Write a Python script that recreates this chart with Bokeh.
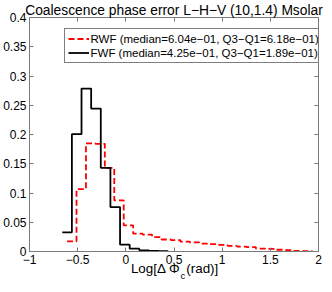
import numpy as np
from bokeh.plotting import figure
from bokeh.models import (LinearAxis, Range1d, Legend, LegendItem, FixedTicker)
from bokeh.embed import file_html
from bokeh.resources import INLINE

# ---------------- data ----------------
title_text = "Coalescence phase error L\u2212H\u2212V (10,1.4) Msolar"
x_label_main = "Log[\u0394 \u03a6\u2002(rad)]"
x_label_sub = "c"
x_ticks = [-1, -0.5, 0, 0.5, 1, 1.5, 2]
x_tick_labels = ["\u22121", "\u22120.5", "0", "0.5", "1", "1.5", "2"]
y_ticks = [0, 0.05, 0.1, 0.15, 0.2, 0.25, 0.3, 0.35, 0.4]
y_tick_labels = ["0", "0.05", "0.1", "0.15", "0.2", "0.25", "0.3", "0.35", "0.4"]

rwf_label = "RWF (median=6.04e\u221201, Q3\u2212Q1=6.18e\u221201)"
rwf_bin_start = -0.61
rwf_bin_width = 0.098
rwf_values = [0.0174, 0.1067, 0.185, 0.184, 0.143, 0.0874, 0.0447, 0.0304,
              0.029, 0.0247, 0.0205, 0.0195, 0.017, 0.0155, 0.0135, 0.0125,
              0.0112, 0.0097, 0.0085, 0.0075, 0.005, 0.0045, 0.003, 0.0025,
              0.0012, 0.0007]

fwf_label = "FWF (median=4.25e\u221201, Q3\u2212Q1=1.89e\u221201)"
fwf_bin_start = -0.66
fwf_bin_width = 0.1
fwf_values = [0.0328, 0.2005, 0.2785, 0.2444, 0.143, 0.076, 0.0116, 0.0048,
              0.002, 0.0012, 0.0006]

x_min, x_max = -1, 2
y_min, y_max = 0, 0.4

# ---------------- figure ----------------
FONT = "Liberation Sans"
AX = "#7a7a7a"

p = figure(width=324, height=284, output_backend="svg", toolbar_location=None,
           x_range=Range1d(x_min, x_max), y_range=Range1d(y_min, y_max),
           min_border_left=27, min_border_right=6, min_border_top=16,
           min_border_bottom=33, background_fill_color="white",
           border_fill_color="white")
p.grid.visible = False
p.outline_line_color = AX
p.outline_line_width = 1

p.title.text = title_text
p.title.align = "center"
p.title.text_font = FONT
p.title.text_font_size = "13.8px"
p.title.text_font_style = "normal"
p.title.text_color = "black"
p.title.standoff = 0

for ax, ticks, labels in ((p.xaxis[0], x_ticks, x_tick_labels),
                          (p.yaxis[0], y_ticks, y_tick_labels)):
    ax.ticker = FixedTicker(ticks=ticks)
    ax.major_label_overrides = dict(zip(ticks, labels))
    ax.major_tick_in = 4
    ax.major_tick_out = 0
    ax.minor_tick_out = 0
    ax.minor_tick_in = 0
    ax.minor_tick_line_color = None
    ax.axis_line_color = AX
    ax.major_tick_line_color = AX
    ax.major_label_text_font = FONT
    ax.major_label_text_font_size = "12px"
    ax.major_label_text_color = "black"
    ax.major_label_standoff = 3


def frame_axis(ticks, loc):
    return LinearAxis(ticker=FixedTicker(ticks=ticks), fixed_location=loc,
                      major_label_text_font_size="1px",
                      major_label_text_color=None, major_label_standoff=0,
                      major_tick_in=4, major_tick_out=0, minor_tick_in=0,
                      minor_tick_out=0, minor_tick_line_color=None,
                      axis_line_color=AX, major_tick_line_color=AX)


p.add_layout(frame_axis(x_ticks, y_max), "above")
p.add_layout(frame_axis(y_ticks, x_max), "right")


# x-axis title drawn as two rows of text below the axis: main text and subscript
def text_axis(pos, text, size, standoff):
    return LinearAxis(ticker=FixedTicker(ticks=[pos]),
                      major_label_overrides={pos: text},
                      major_label_text_font=FONT, major_label_text_font_size=size,
                      major_label_text_color="black", major_label_standoff=standoff,
                      major_tick_in=0, major_tick_out=0, minor_tick_in=0,
                      minor_tick_out=0, minor_tick_line_color=None,
                      major_tick_line_color=None, axis_line_color=None)


label_center = 0.51
sub_center = 0.592
p.add_layout(text_axis(label_center, x_label_main, "13.4px", -6), "below")
p.add_layout(text_axis(sub_center, x_label_sub, "9.5px", -9), "below")

rwf_edges = rwf_bin_start + rwf_bin_width * np.arange(len(rwf_values) + 1)
fwf_edges = fwf_bin_start + fwf_bin_width * np.arange(len(fwf_values) + 1)

r_red = p.step(x=rwf_edges, y=list(rwf_values) + [rwf_values[-1]], mode="after",
               line_color="#ff0000", line_width=1.8, line_dash="6 3")
r_black = p.step(x=fwf_edges, y=list(fwf_values) + [fwf_values[-1]], mode="after",
                 line_color="black", line_width=1.8)

legend = Legend(items=[LegendItem(label=rwf_label, renderers=[r_red]),
                       LegendItem(label=fwf_label, renderers=[r_black])],
                location=(34.5, 188), orientation="vertical",
                label_text_font=FONT, label_text_font_size="11.5px",
                label_text_color="black",
                glyph_width=21, glyph_height=13, label_height=13,
                padding=3, spacing=1, label_standoff=2, margin=0,
                border_line_color="black", border_line_width=1,
                background_fill_color="white", background_fill_alpha=1)
p.add_layout(legend)

open("out.html", "w").write(file_html(p, INLINE))
